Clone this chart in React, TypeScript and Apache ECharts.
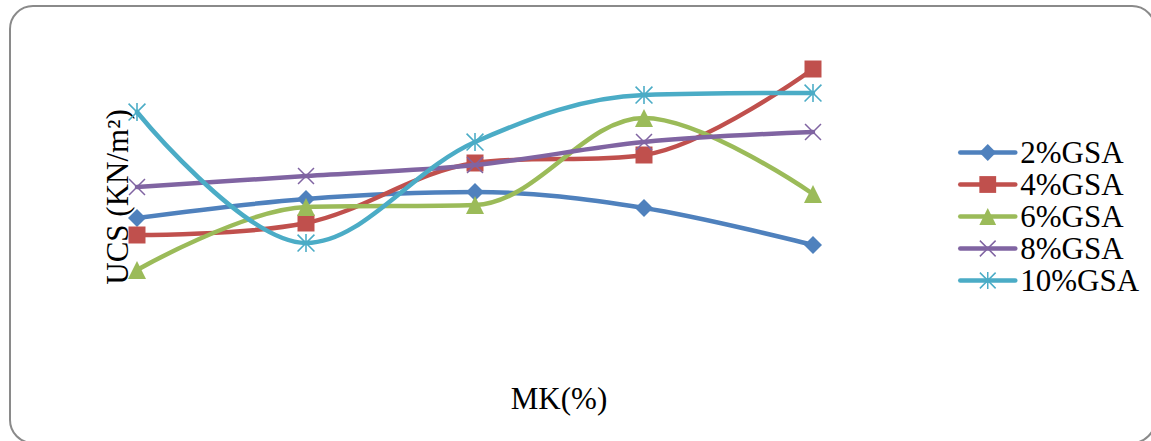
import React, { useEffect, useRef } from "react";
import * as echarts from "echarts";

// Category positions along MK(%) axis (labels not shown in the reference)
const categories = ["MK1", "MK2", "MK3", "MK4", "MK5"];

// UCS values (arbitrary units; the reference has no tick labels)
const gsa2 = [129, 148, 155, 139, 102];
const gsa4 = [112, 124, 184, 192, 278];
const gsa6 = [77, 140, 142, 229, 153];
const gsa8 = [160, 171, 182, 205, 215];
const gsa10 = [235, 104, 205, 252, 254];

const seriesNames = ["2%GSA", "4%GSA", "6%GSA", "8%GSA", "10%GSA"];
const seriesColors = ["#4F81BD", "#C0504D", "#9BBB59", "#8064A2", "#4BACC6"];

const xSymbol =
  "path://M0,1L1,0L16,15L15,16Z M15,0L16,1L1,16L0,15Z";
const starSymbol =
  "path://M7.3,0L8.7,0L8.7,16L7.3,16Z M0,1L1,0L16,15L15,16Z M15,0L16,1L1,16L0,15Z";

const FONT = "'Liberation Serif', 'Times New Roman', serif";

export default function App() {
  const ref = useRef<HTMLDivElement>(null);

  useEffect(() => {
    if (!ref.current) return;
    const chart = echarts.init(ref.current, null, { renderer: "svg" });
    const data = [gsa2, gsa4, gsa6, gsa8, gsa10];
    const symbols = ["diamond", "rect", "triangle", xSymbol, starSymbol];
    const sizes = [18, 17, 18, 17, 18];

    chart.setOption({
      animation: false,
      backgroundColor: "#ffffff",
      grid: { left: 137, right: 338, top: 47, bottom: 94 },
      xAxis: {
        type: "category",
        data: categories,
        boundaryGap: false,
        axisLine: { show: false },
        axisTick: { show: false },
        axisLabel: { show: false },
        splitLine: { show: false },
      },
      yAxis: {
        type: "value",
        min: 0,
        max: 300,
        axisLine: { show: false },
        axisTick: { show: false },
        axisLabel: { show: false },
        splitLine: { show: false },
      },
      legend: {
        orient: "vertical",
        left: 958,
        top: 137,
        padding: 0,
        itemWidth: 55,
        itemHeight: 21,
        itemGap: 1,
        lineStyle: { width: 4.5, cap: "round" },
        textStyle: { fontFamily: FONT, fontSize: 31, color: "#000" },
        data: seriesNames,
      },
      graphic: [
        {
          type: "rect",
          shape: { x: 10, y: 6, width: 1145, height: 437, r: 23 },
          style: { fill: "none", stroke: "#8a8a8a", lineWidth: 2 },
          silent: true,
        },
        {
          type: "text",
          x: 117,
          y: 197,
          rotation: Math.PI / 2,
          style: {
            text: "UCS (KN/m²)",
            fontFamily: FONT,
            fontSize: 31,
            fill: "#000",
            align: "center",
            verticalAlign: "middle",
          },
        },
        {
          type: "text",
          x: 559,
          y: 398,
          style: {
            text: "MK(%)",
            fontFamily: FONT,
            fontSize: 31,
            fill: "#000",
            align: "center",
            verticalAlign: "middle",
          },
        },
      ],
      series: seriesNames.map((name, i) => ({
        name,
        type: "line",
        data: data[i],
        smooth: 0.35,
        symbol: symbols[i],
        symbolSize: sizes[i],
        showSymbol: true,
        lineStyle: { color: seriesColors[i], width: 4.5, cap: "round" },
        itemStyle: { color: seriesColors[i] },
        emphasis: { disabled: true },
        z: 2 + i,
      })),
    });

    return () => chart.dispose();
  }, []);

  return (
    <div
      ref={ref}
      style={{ position: "fixed", left: 0, top: 0, width: 1151, height: 441 }}
    />
  );
}
